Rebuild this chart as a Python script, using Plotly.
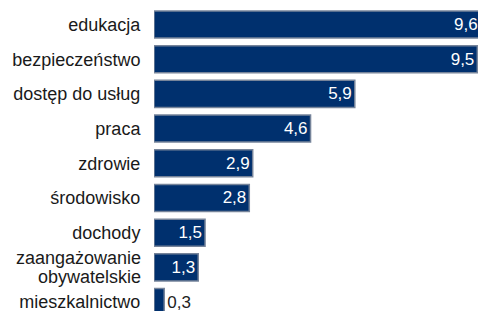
import plotly.graph_objects as go

categories = ["edukacja", "bezpieczeństwo", "dostęp do usług", "praca", "zdrowie",
              "środowisko", "dochody", "zaangażowanie obywatelskie", "mieszkalnictwo"]
values = [9.6, 9.5, 5.9, 4.6, 2.9, 2.8, 1.5, 1.3, 0.3]
labels = [f"{v:.1f}".replace(".", ",") for v in values]
# tick labels; the two-line one is drawn as annotations for tighter line spacing
split_category = "zaangażowanie obywatelskie"
split_lines = ["zaangażowanie", "obywatelskie"]
tick_text = ["" if c == split_category else c for c in categories]

narrow = "Liberation Sans Narrow, Arial Narrow, sans-serif"
label_font = dict(family="Liberation Sans, Arial, sans-serif", size=18, color="#1a1a1a")

fig = go.Figure(go.Bar(
    x=values, y=categories, orientation="h",
    text=labels, textposition="auto", insidetextanchor="end",
    insidetextfont=dict(color="white", size=17, family=narrow),
    outsidetextfont=dict(color="#222222", size=17, family=narrow),
    marker=dict(color="#00306E", line=dict(color="#76849a", width=1.5)),
    cliponaxis=True,
))

for line, shift in zip(split_lines, [9.7, -9.7]):
    fig.add_annotation(x=0, xref="paper", y=split_category, yref="y", text=line,
                       showarrow=False, xanchor="right", yanchor="middle",
                       xshift=-12, yshift=shift, borderpad=0, font=label_font)

fig.update_layout(
    width=478, height=311,
    margin=dict(l=154, r=0, t=0, b=0),
    paper_bgcolor="white", plot_bgcolor="white",
    bargap=0.22, showlegend=False,
    font=label_font,
)
fig.update_xaxes(range=[0, 9.52], visible=False, showgrid=False, zeroline=False)
fig.update_yaxes(range=[8.257, -0.706], showgrid=False, zeroline=False, showline=False,
                 automargin=False, tickmode="array", tickvals=categories, ticktext=tick_text,
                 ticks="outside", ticklen=9, tickcolor="rgba(0,0,0,0)",
                 tickfont=label_font)

fig.write_html("out.html", config={"displayModeBar": False},
               post_script="document.body.style.margin='0';document.body.style.overflow='hidden';")
